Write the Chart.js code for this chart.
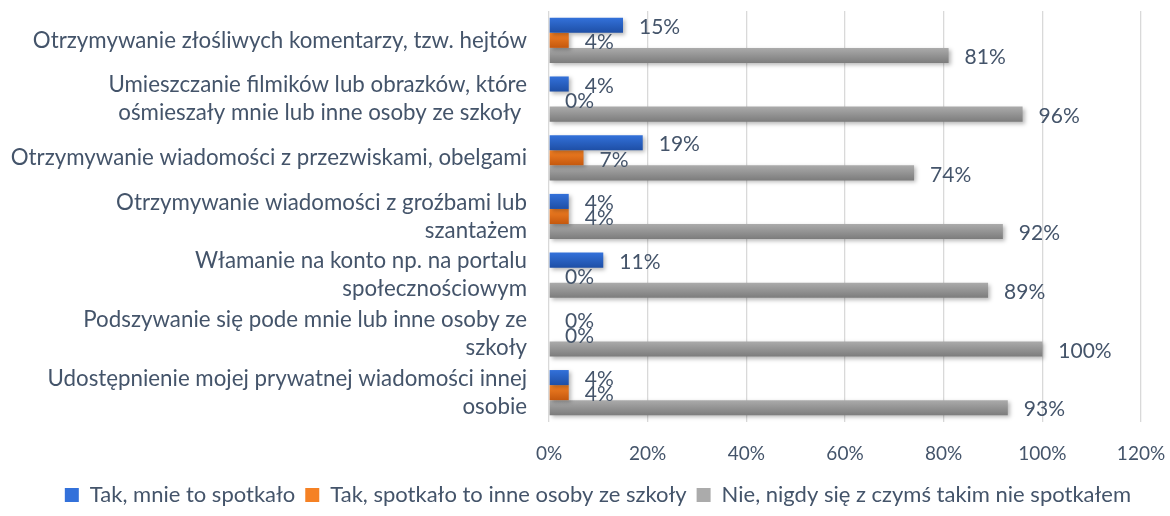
<!DOCTYPE html>
<html>
<head>
<meta charset="utf-8">
<script src="https://cdn.jsdelivr.net/npm/chart.js@4/dist/chart.umd.min.js"></script>
<style>
  html, body { margin: 0; padding: 0; background: #fff; }
  #wrap { width: 1170px; height: 516px; }
</style>
</head>
<body>
<div id="wrap"><canvas id="chart" width="1170" height="516"></canvas></div>
<script>
// ── Data ──────────────────────────────────────────────────
const categories = [
  'Otrzymywanie złośliwych komentarzy, tzw. hejtów',
  ['Umieszczanie filmików lub obrazków, które', 'ośmieszały mnie lub inne osoby ze szkoły '],
  'Otrzymywanie wiadomości z przezwiskami, obelgami',
  ['Otrzymywanie wiadomości z groźbami lub', 'szantażem'],
  ['Włamanie na konto np. na portalu', 'społecznościowym'],
  ['Podszywanie się pode mnie lub inne osoby ze', 'szkoły'],
  ['Udostępnienie mojej prywatnej wiadomości innej', 'osobie']
];
const seriesNames = [
  'Tak, mnie to spotkało',
  'Tak, spotkało to inne osoby ze szkoły',
  'Nie, nigdy się z czymś takim nie spotkałem'
];
const meValues     = [15, 4, 19, 4, 11, 0, 4];
const othersValues = [4, 0, 7, 4, 0, 0, 4];
const neverValues  = [81, 96, 74, 92, 89, 100, 93];
const xTicks = [0, 20, 40, 60, 80, 100, 120];

// colours: [top, bottom] of each bar gradient
const shades = [
  ['#3371DA', '#1E4FA6'],
  ['#F58124', '#C4580E'],
  ['#ABABAB', '#7C7C7C']
];
const textColor = '#44546A';
const fontFamily = 'Lato, "Open Sans", sans-serif';

// ── Plugins ───────────────────────────────────────────────
const barLook = {
  id: 'barLook',
  beforeDatasetDraw(chart, args) {
    const ctx = chart.ctx;
    const [top, bottom] = shades[args.index];
    args.meta.data.forEach(el => {
      const h = el.height / 2;
      const g = ctx.createLinearGradient(0, el.y - h, 0, el.y + h);
      g.addColorStop(0, top);
      g.addColorStop(1, bottom);
      el.options = Object.assign({}, el.options, { backgroundColor: g });
    });
    ctx.save();
    ctx.shadowColor = 'rgba(0,0,0,0.28)';
    ctx.shadowBlur = 4;
    ctx.shadowOffsetX = 2;
    ctx.shadowOffsetY = 2;
  },
  afterDatasetDraw(chart) {
    chart.ctx.restore();
  }
};

const valueLabels = {
  id: 'valueLabels',
  afterDatasetsDraw(chart) {
    const ctx = chart.ctx;
    ctx.save();
    ctx.font = '21px ' + fontFamily;
    ctx.fillStyle = textColor;
    ctx.textAlign = 'left';
    ctx.textBaseline = 'middle';
    chart.data.datasets.forEach((ds, di) => {
      chart.getDatasetMeta(di).data.forEach((el, i) => {
        ctx.fillText(ds.data[i] + '%', el.x + 16, el.y + 2);
      });
    });
    ctx.restore();
  }
};

// ── Chart ─────────────────────────────────────────────────
const values = [meValues, othersValues, neverValues];

new Chart(document.getElementById('chart'), {
  type: 'bar',
  data: {
    labels: categories,
    datasets: seriesNames.map((name, i) => ({
      label: name,
      data: values[i],
      backgroundColor: shades[i][0],
      borderWidth: 0,
      categoryPercentage: 0.77,
      barPercentage: 1
    }))
  },
  options: {
    indexAxis: 'y',
    responsive: false,
    animation: false,
    layout: { padding: { top: 11, right: 29, left: 0, bottom: 0 } },
    plugins: {
      legend: {
        position: 'bottom',
        align: 'end',
        labels: {
          color: textColor,
          font: { family: fontFamily, size: 22 },
          boxWidth: 14,
          boxHeight: 14,
          padding: 10
        }
      },
      tooltip: { enabled: false }
    },
    scales: {
      x: {
        min: 0,
        max: 120,
        afterBuildTicks: axis => { axis.ticks = xTicks.map(v => ({ value: v })); },
        afterFit: axis => {
          axis.height = 52;
          axis.paddingLeft = 0;
          axis.paddingRight = 0;
        },
        grid: { color: '#D9D9D9', lineWidth: 1.3, drawTicks: false },
        border: { display: false },
        ticks: {
          color: textColor,
          font: { family: fontFamily, size: 19 },
          padding: 20,
          maxRotation: 0,
          callback: v => v + '%'
        }
      },
      y: {
        grid: { display: false, drawTicks: false },
        border: { display: false },
        afterFit: axis => {
          axis.width = 549;
          axis.paddingTop = 0;
          axis.paddingBottom = 0;
        },
        ticks: {
          autoSkip: false,
          color: textColor,
          font: { family: fontFamily, size: 22.3, lineHeight: 1.26 },
          padding: 22
        }
      }
    }
  },
  plugins: [barLook, valueLabels]
});
</script>
</body>
</html>
